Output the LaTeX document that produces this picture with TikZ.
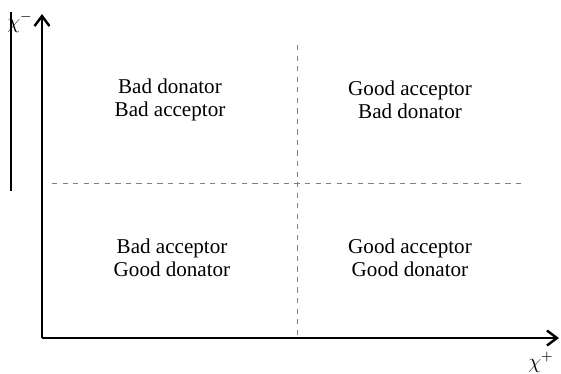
\documentclass[tikz,border=0pt]{standalone}
\usepackage{fontspec}
\setmainfont{Liberation Serif}
\usetikzlibrary{arrows.meta}
\begin{document}
\begin{tikzpicture}[x=0.02cm,y=-0.02cm,line join=round,font=\fontsize{12}{13}\selectfont,
  >={Straight Barb[length=2mm,width=3mm]}]
  \tikzset{quad/.style={align=center,inner sep=0pt},
    axis/.style={line width=1.4pt,->},
    grid/.style={dashed,gray,line width=0.5pt}}
  \useasboundingbox (0,0) rectangle (561,373);
  % axes
  \coordinate (O) at (42,338);
  \coordinate (ytop) at (42,14);
  \coordinate (xend) at (559,338);
  \draw[axis] (O)--(ytop);
  \draw[axis] (O)--(xend);
  \node[inner sep=0pt] (ylab) at (20,22) {$\chi^{-}$};
  \node[inner sep=0pt] (xlab) at (541,362) {$\chi^{+}$};
  \draw[line width=0.8pt] (11,12)--(11,191);
  % quadrant borders
  \coordinate (hl) at (52,183);
  \coordinate (hr) at (522,183);
  \coordinate (vt) at (297,45);
  \coordinate (vb) at (297,335);
  \draw[grid] (hl)--(hr) (vt)--(vb);
  % quadrant texts
  \node[quad] (q2) at (170,100) {Bad donator\\Bad acceptor};
  \node[quad] (q1) at (410,100) {Good acceptor\\Bad donator};
  \node[quad] (q3) at (172,258) {Bad acceptor\\Good donator};
  \node[quad] (q4) at (410,258) {Good acceptor\\Good donator};
\end{tikzpicture}
\end{document}
